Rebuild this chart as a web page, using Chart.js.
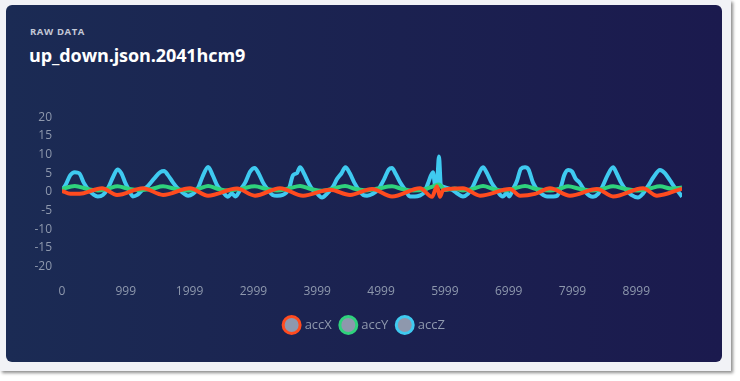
<!DOCTYPE html>
<html>
<head>
<meta charset="utf-8">
<script src="https://cdn.jsdelivr.net/npm/chart.js@4.4.1/dist/chart.umd.min.js"></script>
<style>
  html, body { margin: 0; padding: 0; background: #ffffff; width: 740px; height: 381px; overflow: hidden; }
  #frame { position: absolute; left: 0; top: 0; width: 731px; height: 371px; background: #f1f2f6;
           box-shadow: 2px 2px 3px rgba(0,0,0,0.45); }
  #card { position: absolute; left: 6px; top: 5px; width: 716px; height: 357px; border-radius: 6px;
          background: linear-gradient(90deg, #1b2b54 0%, #1b2150 55%, #1b1a4e 100%); overflow: hidden; }
  #sub { position: absolute; left: 24px; top: 20px; font-family: "Open Sans", sans-serif; font-weight: 700;
         font-size: 9.5px; letter-spacing: 0.6px; color: #c3c8d6; }
  #title { position: absolute; left: 23px; top: 38px; font-family: "Open Sans", sans-serif; font-weight: 700;
           font-size: 18px; color: #ffffff; letter-spacing: -0.1px; }
  #c { position: absolute; left: 0; top: 95px; }
</style>
</head>
<body>
<div id="frame"></div>
<div id="card">
  <div id="sub">RAW DATA</div>
  <div id="title">up_down.json.2041hcm9</div>
  <canvas id="c" width="716" height="255"></canvas>
</div>
<script>
const seriesNames = ["accX", "accY", "accZ"];
const xTickValues = [0, 999, 1999, 2999, 3999, 4999, 5999, 6999, 7999, 8999];
const yTickMin = -20, yTickMax = 20, yTickStep = 5;

const accZTimes = [0,60,130,200,270,340,420,500,560,640,720,800,870,930,990,1050,1110,1180,1260,1340,1440,1540,1600,1660,1740,1820,1900,1975,2050,2130,2200,2290,2360,2440,2520,2600,2660,2720,2790,2870,2950,3020,3080,3150,3230,3300,3370,3460,3560,3620,3680,3730,3790,3860,3930,4000,4074,4150,4250,4310,4380,4440,4510,4580,4660,4720,4780,4870,4970,5050,5120,5170,5230,5300,5380,5450,5530,5600,5680,5740,5813,5850,5880,5907,5935,5960,6040,6120,6200,6283,6360,6440,6520,6597,6660,6730,6810,6880,6910,6970,7010,7060,7130,7190,7255,7310,7380,7460,7540,7600,7700,7760,7820,7870,7930,7990,8050,8110,8200,8320,8400,8470,8550,8635,8690,8760,8840,8920,9025,9100,9180,9270,9370,9450,9530,9610,9660,9715];
const accZValues = [0.5,2,4.5,5.3,5.0,2.5,0.5,-0.8,-1.2,-0.8,1,4,6,5,2.5,0.5,-1.2,-0.8,0.5,1.5,3.5,5.3,5.6,4.5,2.5,0.8,-0.3,-1,-0.5,1,4,6.7,4.5,1.5,0,-1.3,-0.4,-1.2,0.5,2.5,5.5,6.4,5,2.5,0.5,-0.8,-1,-0.8,1,4.5,5,6.6,5,2.5,0.5,-0.5,-1.5,-0.5,1.5,3.5,5,6.6,5,2.5,0.3,-0.8,-1,-0.5,1,3.5,6,6.4,4.8,2.5,0.5,-1.2,-1.2,-1,0,2.5,5.3,1.5,3,9.5,2,1.5,1,0.5,-0.5,-1.2,-0.5,1.5,4.5,6.6,5,2.5,0.5,-1,-1.2,-0.3,-1.2,0.5,3,6.2,6.6,6,2.5,0.3,-0.8,-1.2,-1.2,-1,1.5,4.5,5.9,5.5,3.5,2.5,0,-1.3,-0.5,1.5,4.5,6.6,5,2.5,0.5,-0.8,-1.5,-0.5,1.5,4,5.9,5,3,1,0,-1.3];

const accYTimes = [0,200,400,560,720,870,1050,1200,1400,1583,1780,1975,2150,2290,2450,2600,2800,3020,3200,3370,3550,3730,3900,4074,4250,4435,4600,4780,4950,5171,5330,5500,5700,5813,5907,6000,6150,6283,6450,6597,6760,6910,7080,7255,7430,7650,7800,7930,8120,8320,8480,8635,8830,9025,9200,9370,9550,9715];
const accYValues = [0.8,1.6,0.8,0.4,0.9,1.5,0.8,0.5,0.8,1.5,0.8,0.4,0.9,1.6,0.8,0.4,0.8,1.5,0.8,0.4,0.9,1.6,0.8,0.3,0.9,1.6,0.8,0.4,0.9,1.5,0.8,0.4,0.8,1.5,2.0,0.5,0.9,0.4,0.9,1.6,0.8,0.4,0.9,1.6,0.8,0.4,0.9,1.5,0.8,0.4,0.9,1.5,0.8,0.4,0.9,1.5,0.9,1.2];

const accXTimes = [0,130,310,627,862,1269,1583,2006,2288,2742,3024,3416,3777,4200,4513,4858,5171,5610,5798,5876,5923,5970,6283,6550,7020,7177,7412,7647,7960,8383,8634,9104,9323,9715];
const accXValues = [0.3,-0.5,-0.4,1,-0.8,1,-0.8,1,-1,0.9,-1,1,-1,0.6,-0.8,0.8,-1.2,1,-1.3,1.5,-1.3,0.5,1,-1,0.8,-1,-0.5,1,-1,0.8,-1.2,1,-1,0.9];

const seriesColors = ["#ff4b1f", "#2fd27c", "#3fcaf0"];
const legendFill = "#8e98ad";
const tickColor = "#8e98ad";

function pts(ts, vs) { return ts.map((t, i) => ({ x: t, y: vs[i] })); }
const allData = [pts(accXTimes, accXValues), pts(accYTimes, accYValues), pts(accZTimes, accZValues)];
const order = [0, 1, 2];

const datasets = seriesNames.map((name, i) => ({
  label: name,
  data: allData[i],
  borderColor: seriesColors[i],
  backgroundColor: legendFill,
  borderWidth: 4,
  pointRadius: 0,
  tension: 0.4,
  cubicInterpolationMode: 'monotone',
  fill: false,
  order: order[i]
}));

// shift the centred legend row slightly right, as in the reference card
const legendShift = {
  id: 'legendShift',
  afterLayout(chart) {
    if (chart.legend) { chart.legend.left += 8; chart.legend.right += 8; }
  }
};

new Chart(document.getElementById('c'), {
  type: 'line',
  data: { datasets },
  plugins: [legendShift],
  options: {
    responsive: false,
    animation: false,
    layout: { padding: { left: 26, right: 40, top: 17, bottom: 13.5 } },
    scales: {
      x: {
        type: 'linear',
        min: 0,
        max: 9715,
        grid: { display: false, drawTicks: false },
        border: { display: false },
        afterBuildTicks: (s) => { s.ticks = xTickValues.map(v => ({ value: v })); },
        afterFit: (s) => { s.height = 41.8; },
        ticks: { color: tickColor, font: { family: 'Open Sans', size: 12, lineHeight: 1.0 }, padding: 19, maxRotation: 0, autoSkip: false,
                 callback: (v) => String(v) }
      },
      y: {
        min: yTickMin,
        max: yTickMax,
        grid: { display: false, drawTicks: false },
        border: { display: false },
        afterFit: (s) => { s.width = 30; },
        ticks: { stepSize: yTickStep, color: tickColor, font: { family: 'Open Sans', size: 12 }, padding: 10 }
      }
    },
    plugins: {
      tooltip: { enabled: false },
      legend: {
        position: 'bottom',
        labels: {
          usePointStyle: true,
          pointStyle: 'circle',
          boxHeight: 12,
          color: tickColor,
          font: { family: 'Open Sans', size: 13, lineHeight: 1.0 },
          padding: 10,
          generateLabels: (chart) => chart.data.datasets.map((d, i) => ({
            text: d.label,
            fillStyle: legendFill,
            strokeStyle: d.borderColor,
            lineWidth: 3,
            pointStyle: 'circle',
            hidden: false,
            datasetIndex: i,
            fontColor: tickColor
          }))
        }
      }
    }
  }
});
</script>
</body>
</html>
